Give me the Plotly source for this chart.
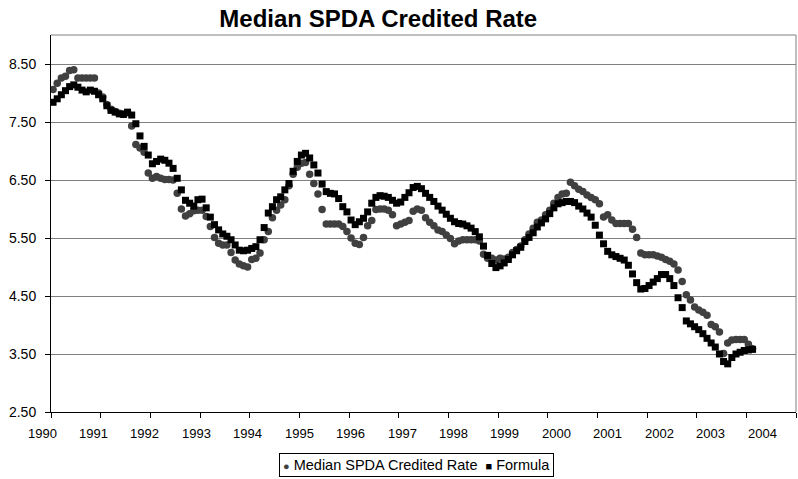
import plotly.graph_objects as go

# ---------------- data (monthly, Jan 1990 .. Feb 2004) ----------------
start_year = 1990
median_rate = [
    8.06, 8.17, 8.26, 8.29, 8.39, 8.40, 8.26, 8.26, 8.26, 8.26, 8.26, 8.00,
    7.93, 7.80, 7.72, 7.68, 7.65, 7.64, 7.66, 7.43, 7.11, 7.05, 6.98, 6.62,
    6.53, 6.56, 6.53, 6.51, 6.51, 6.50, 6.27, 6.00, 5.88, 5.92, 5.97, 5.98,
    5.98, 5.87, 5.70, 5.51, 5.41, 5.38, 5.38, 5.25, 5.12, 5.05, 5.02, 5.00,
    5.13, 5.15, 5.24, 5.47, 5.61, 5.85, 5.98, 6.07, 6.16, 6.40, 6.60, 6.72,
    6.79, 6.80, 6.60, 6.44, 6.26, 5.99, 5.74, 5.74, 5.74, 5.74, 5.70, 5.61,
    5.50, 5.41, 5.39, 5.51, 5.71, 5.80, 5.99, 6.00, 6.00, 5.98, 5.90, 5.71,
    5.74, 5.77, 5.80, 5.96, 6.00, 5.98, 5.85, 5.77, 5.71, 5.64, 5.61, 5.55,
    5.49, 5.40, 5.45, 5.47, 5.47, 5.47, 5.47, 5.45, 5.22, 5.15, 5.15, 5.12,
    5.15, 5.14, 5.17, 5.25, 5.30, 5.36, 5.47, 5.57, 5.67, 5.77, 5.81, 5.90,
    5.98, 6.10, 6.20, 6.26, 6.27, 6.46, 6.40, 6.34, 6.30, 6.24, 6.20, 6.16,
    6.09, 5.86, 5.90, 5.81, 5.75, 5.75, 5.75, 5.75, 5.65, 5.51, 5.24, 5.21,
    5.21, 5.21, 5.19, 5.17, 5.13, 5.10, 5.05, 4.95, 4.75, 4.52, 4.43, 4.31,
    4.26, 4.22, 4.17, 4.01, 3.97, 3.88, 3.51, 3.69, 3.74, 3.75, 3.75, 3.75,
    3.67, 3.59,
]
formula_rate = [
    7.84, 7.90, 7.97, 8.04, 8.11, 8.14, 8.10, 8.05, 8.02, 8.05, 8.03, 7.97,
    7.90, 7.78, 7.70, 7.67, 7.64, 7.63, 7.67, 7.62, 7.47, 7.26, 7.08, 6.93,
    6.78, 6.82, 6.86, 6.84, 6.79, 6.70, 6.53, 6.33, 6.15, 6.10, 6.05, 6.16,
    6.17, 6.02, 5.86, 5.73, 5.64, 5.57, 5.53, 5.47, 5.38, 5.29, 5.28, 5.29,
    5.32, 5.35, 5.47, 5.68, 5.93, 6.04, 6.16, 6.21, 6.33, 6.44, 6.65, 6.82,
    6.93, 6.96, 6.88, 6.76, 6.62, 6.43, 6.30, 6.27, 6.26, 6.18, 6.04, 5.95,
    5.81, 5.73, 5.78, 5.84, 5.95, 6.10, 6.20, 6.23, 6.22, 6.20, 6.15, 6.10,
    6.12, 6.20, 6.28, 6.37, 6.39, 6.35, 6.27, 6.20, 6.13, 6.05, 5.98, 5.91,
    5.84, 5.78, 5.75, 5.74, 5.71, 5.67, 5.61, 5.52, 5.36, 5.20, 5.06, 4.99,
    5.02, 5.07, 5.13, 5.21, 5.28, 5.34, 5.44, 5.51, 5.59, 5.69, 5.76, 5.83,
    5.92, 6.02, 6.09, 6.11, 6.13, 6.13, 6.11, 6.05, 6.00, 5.93, 5.86, 5.72,
    5.55, 5.40, 5.27, 5.21, 5.18, 5.15, 5.12, 5.03, 4.88, 4.73, 4.62, 4.63,
    4.68, 4.74, 4.80, 4.87, 4.87, 4.80, 4.68, 4.47, 4.30, 4.07, 4.02, 3.97,
    3.92, 3.85, 3.77, 3.69, 3.62, 3.50, 3.37, 3.33, 3.44, 3.50, 3.53, 3.56,
    3.57, 3.58,
]
series_names = ["Median SPDA Credited Rate", "Formula"]
series_colors = ["#404040", "#000000"]
year_labels = [str(y) for y in range(1990, 2005)]
y_tick_values = [2.5, 3.5, 4.5, 5.5, 6.5, 7.5, 8.5]

X_MIN, X_MAX = 1990, 2005

# month mid-points as fractional years
dates = [start_year + (i + 0.5) / 12 for i in range(len(median_rate))]

fig = go.Figure()
fig.add_trace(go.Scatter(
    x=dates, y=median_rate, mode="markers", name=series_names[0],
    marker=dict(symbol="circle", size=7.5, color=series_colors[0], line=dict(width=0)),
    showlegend=False,
))
fig.add_trace(go.Scatter(
    x=dates, y=formula_rate, mode="markers", name=series_names[1],
    marker=dict(symbol="square", size=7, color=series_colors[1], line=dict(width=0)),
    showlegend=False,
))

FONT = "Liberation Sans, Arial"

# x tick labels (Excel-style category labels, spaced slightly wider than ticks)
label_start = 1989.82
label_step = 1.0355
annotations = []
for k, lab in enumerate(year_labels):
    xv = label_start + k * label_step
    annotations.append(dict(
        x=(xv - X_MIN) / (X_MAX - X_MIN), xref="paper",
        y=0, yref="paper", yshift=-21,
        text=lab, showarrow=False,
        font=dict(family=FONT, size=13, color="#000"),
        xanchor="center", yanchor="middle",
    ))

# legend box (Excel style: small marker glyph directly before each name)
legend_text = (
    f'<span style="color:{series_colors[0]};font-size:11px">\u25cf</span> {series_names[0]}'
    f'  <span style="color:{series_colors[1]};font-size:11px">\u25a0</span> {series_names[1]}'
)
annotations.append(dict(
    x=0.491, xref="paper", y=0, yref="paper", yshift=-53,
    text=legend_text, showarrow=False,
    font=dict(family=FONT, size=14.5, color="#000"),
    xanchor="center", yanchor="middle",
    bordercolor="#000", borderwidth=1, borderpad=3, bgcolor="white",
))

fig.update_layout(
    width=798, height=479,
    margin=dict(l=51, r=2, t=35, b=67),
    paper_bgcolor="white", plot_bgcolor="white",
    font=dict(family=FONT, size=13, color="#000"),
    title=dict(text="<b>Median SPDA Credited Rate</b>", x=0.474, xanchor="center",
               y=0.961, yanchor="middle",
               font=dict(family=FONT, size=24, color="#000")),
    xaxis=dict(
        range=[X_MIN, X_MAX], tickmode="array",
        tickvals=list(range(X_MIN, X_MAX + 1)), showticklabels=False,
        ticks="outside", ticklen=5, tickcolor="#000",
        showline=True, linecolor="#000", linewidth=1,
        showgrid=False, zeroline=False,
    ),
    yaxis=dict(
        range=[2.5, 9.0], tickmode="array", tickvals=y_tick_values,
        ticktext=[f"{v:.2f}" for v in y_tick_values],
        ticks="outside", ticklen=5, tickcolor="#000",
        showline=True, linecolor="#000", linewidth=1,
        showgrid=True, gridcolor="#808080", gridwidth=1,
        zeroline=False, tickfont=dict(size=14), ticklabelstandoff=6,
    ),
    shapes=[
        dict(type="line", xref="paper", yref="paper", x0=0, x1=1, y0=1, y1=1,
             line=dict(color="#808080", width=1)),
        dict(type="line", xref="paper", yref="paper", x0=1, x1=1, y0=0, y1=1,
             line=dict(color="#808080", width=1)),
    ],
    annotations=annotations,
    showlegend=False,
)

fig.write_html(
    "out.html",
    config={"displayModeBar": False},
    post_script="document.body.style.margin='0';document.body.style.overflow='hidden';",
)
